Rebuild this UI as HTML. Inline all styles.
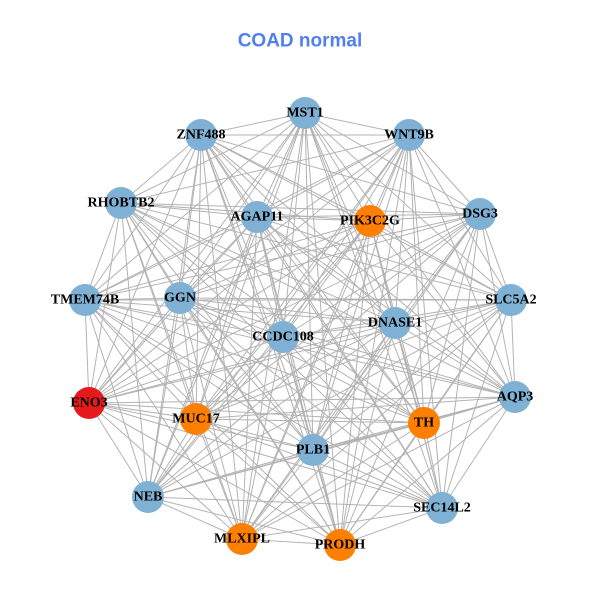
<!DOCTYPE html>
<html><head><meta charset="utf-8"><style>
html,body{margin:0;padding:0;background:#fff;}
svg{display:block}
text.l{font-family:"Liberation Serif",serif;font-weight:bold;font-size:14px;fill:#000;text-anchor:middle;dominant-baseline:central}
</style></head><body>
<svg id="s" width="600" height="600" viewBox="0 0 600 600">
<rect width="600" height="600" fill="#fff"/>
<text x="300" y="41" text-anchor="middle" dominant-baseline="central" style="font-family:'Liberation Sans',sans-serif;font-weight:bold;font-size:19px" fill="#4f7ff0">COAD normal</text>
<g id="e" stroke="#b3b3b3" stroke-width="1"></g>
<g id="n">
<circle cx="305" cy="113" r="16" fill="#7fb1d5"/>
<circle cx="201" cy="135" r="16" fill="#7fb1d5"/>
<circle cx="409" cy="135" r="16" fill="#7fb1d5"/>
<circle cx="121" cy="203" r="16" fill="#7fb1d5"/>
<circle cx="257" cy="217" r="16" fill="#7fb1d5"/>
<circle cx="370" cy="221" r="16" fill="#ff7f00"/>
<circle cx="480" cy="214" r="16" fill="#7fb1d5"/>
<circle cx="85" cy="300" r="16" fill="#7fb1d5"/>
<circle cx="180" cy="298" r="16" fill="#7fb1d5"/>
<circle cx="511" cy="300" r="16" fill="#7fb1d5"/>
<circle cx="283" cy="337" r="16" fill="#7fb1d5"/>
<circle cx="395" cy="323" r="16" fill="#7fb1d5"/>
<circle cx="89" cy="403" r="16" fill="#e41a1c"/>
<circle cx="196" cy="419" r="16" fill="#ff7f00"/>
<circle cx="515" cy="397" r="16" fill="#7fb1d5"/>
<circle cx="424" cy="423" r="16" fill="#ff7f00"/>
<circle cx="313" cy="450" r="16" fill="#7fb1d5"/>
<circle cx="148" cy="497" r="16" fill="#7fb1d5"/>
<circle cx="442" cy="508" r="16" fill="#7fb1d5"/>
<circle cx="242" cy="539" r="16" fill="#ff7f00"/>
<circle cx="340" cy="545" r="16" fill="#ff7f00"/>
</g>
<text class="l" x="305" y="113">MST1</text>
<text class="l" x="201" y="135">ZNF488</text>
<text class="l" x="409" y="135">WNT9B</text>
<text class="l" x="121" y="203">RHOBTB2</text>
<text class="l" x="257" y="217">AGAP11</text>
<text class="l" x="370" y="221">PIK3C2G</text>
<text class="l" x="480" y="214">DSG3</text>
<text class="l" x="85" y="300">TMEM74B</text>
<text class="l" x="180" y="298">GGN</text>
<text class="l" x="511" y="300">SLC5A2</text>
<text class="l" x="283" y="337">CCDC108</text>
<text class="l" x="395" y="323">DNASE1</text>
<text class="l" x="89" y="403">ENO3</text>
<text class="l" x="196" y="419">MUC17</text>
<text class="l" x="515" y="397">AQP3</text>
<text class="l" x="424" y="423">TH</text>
<text class="l" x="313" y="450">PLB1</text>
<text class="l" x="148" y="497">NEB</text>
<text class="l" x="442" y="508">SEC14L2</text>
<text class="l" x="242" y="539">MLXIPL</text>
<text class="l" x="340" y="545">PRODH</text>
</svg>
<script>
var c=document.querySelectorAll('#n circle'),g=document.getElementById('e'),ns='http://www.w3.org/2000/svg';
for(var i=0;i<c.length;i++)for(var j=i+1;j<c.length;j++){var l=document.createElementNS(ns,'line');
l.setAttribute('x1',c[i].getAttribute('cx'));l.setAttribute('y1',c[i].getAttribute('cy'));
l.setAttribute('x2',c[j].getAttribute('cx'));l.setAttribute('y2',c[j].getAttribute('cy'));g.appendChild(l);}
</script>
</body></html>
